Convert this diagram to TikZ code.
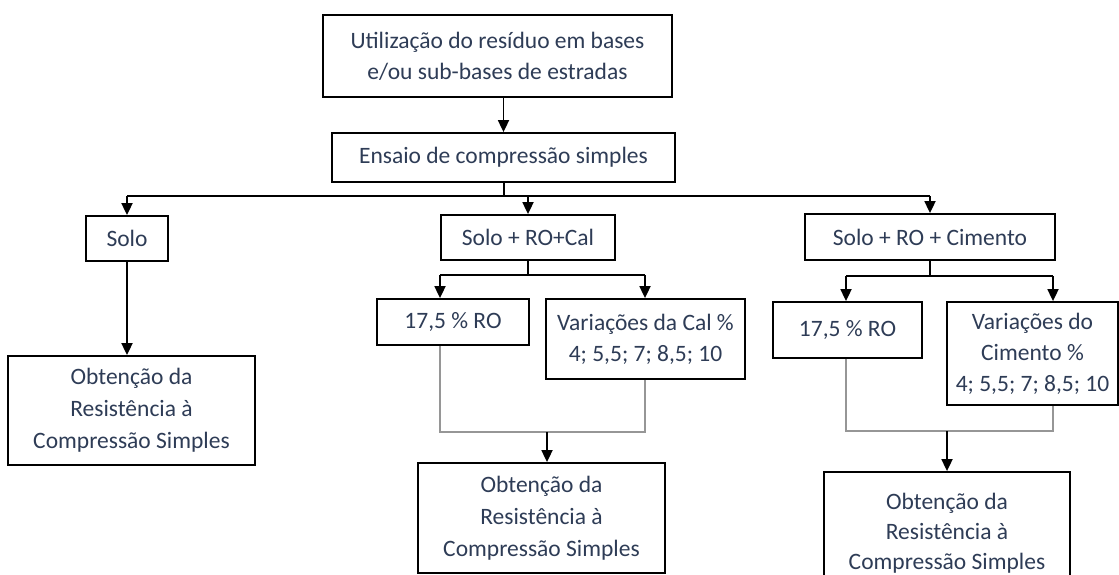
\documentclass[tikz,border=0pt]{standalone}
\usepackage{fontspec}
\newfontfamily\boxfont{Carlito}
\usetikzlibrary{arrows.meta}
\definecolor{txt}{RGB}{46,60,86}
\definecolor{thin}{RGB}{150,150,150}
\begin{document}
\begin{tikzpicture}[x=1pt,y=-1pt,
  box/.style={draw=black,line width=1.8pt,inner sep=0pt,align=center,text=txt,
    font=\boxfont\fontsize{23.5pt}{31pt}\selectfont},
  conn/.style={draw=black,line width=1.8pt},
  arr/.style={conn,-{Triangle[length=12pt,width=11pt]}},
  merge/.style={draw=thin,line width=1.3pt}]
\useasboundingbox (0,0) rectangle (1119,575);
\clip (0,0) rectangle (1119,575);
\fill[white] (0,0) rectangle (1119,575);
% nodes
\node[box,minimum width=349pt,minimum height=82pt] (T) at (497.5,56) {Utilização do resíduo em bases\\e/ou sub-bases de estradas};
\node[box,minimum width=343pt,minimum height=49pt] (E) at (503.5,157.5) {Ensaio de compressão simples};
\node[box,minimum width=82pt,minimum height=45pt] (S) at (127,238.5) {Solo};
\node[box,minimum width=247pt,minimum height=109pt,font=\boxfont\fontsize{23.5pt}{32pt}\selectfont] (BL) at (131.5,410.5) {Obtenção da\\Resistência à\\Compressão Simples};
\node[box,minimum width=174pt,minimum height=45pt] (C) at (528,237.5) {Solo + RO+Cal};
\node[box,minimum width=152pt,minimum height=46pt] (RO1) at (453,322) {17,5 \% RO};
\node[box,minimum width=199pt,minimum height=80pt] (V1) at (645.5,339) {Variações da Cal \%\\4; 5,5; 7; 8,5; 10};
\node[box,minimum width=247pt,minimum height=110pt,font=\boxfont\fontsize{23.5pt}{32pt}\selectfont] (BM) at (541.5,518) {Obtenção da\\Resistência à\\Compressão Simples};
\node[box,minimum width=250pt,minimum height=46pt] (Cm) at (930,237) {Solo + RO + Cimento};
\node[box,minimum width=149pt,minimum height=56pt] (RO2) at (847.5,330) {17,5 \% RO};
\node[box,minimum width=171pt,minimum height=103pt] (V2) at (1032.5,353.5) {Variações do\\Cimento \%\\4; 5,5; 7; 8,5; 10};
\node[box,minimum width=246pt,minimum height=122pt,font=\boxfont\fontsize{23.5pt}{30pt}\selectfont] (BR) at (947,533) {Obtenção da\\Resistência à\\Compressão Simples};
% coordinates of junctions
\coordinate (b0) at (504,196);
\coordinate (m1) at (440,275);
\coordinate (m2) at (645,275);
\coordinate (j1) at (440,432);
\coordinate (j2) at (645,432);
\coordinate (jm) at (547,432);
\coordinate (n1) at (846,276);
\coordinate (n2) at (1053,276);
\coordinate (k1) at (846,431);
\coordinate (k2) at (1053,431);
\coordinate (km) at (947,431);
% top
\draw[arr] (E.north |- T.south) -- (E.north);
\draw[conn] (b0 |- E.south) -- (b0);
\draw[conn] (S.north |- b0) -- (Cm.north |- b0);
\draw[arr] (S.north |- b0) -- (S.north);
\draw[arr] (C.north |- b0) -- (C.north);
\draw[arr] (Cm.north |- b0) -- (Cm.north);
% left
\draw[arr] (S.south) -- (S.south |- BL.north);
% middle
\draw[conn] (C.south) -- (C.south |- m1);
\draw[conn] (m1) -- (m2);
\draw[arr] (m1) -- (m1 |- RO1.north);
\draw[arr] (m2) -- (m2 |- V1.north);
\draw[merge] (j1 |- RO1.south) -- (j1) -- (j2) -- (j2 |- V1.south);
\draw[arr] (jm) -- (jm |- BM.north);
% right
\draw[conn] (Cm.south) -- (Cm.south |- n1);
\draw[conn] (n1) -- (n2);
\draw[arr] (n1) -- (n1 |- RO2.north);
\draw[arr] (n2) -- (n2 |- V2.north);
\draw[merge] (k1 |- RO2.south) -- (k1) -- (k2) -- (k2 |- V2.south);
\draw[arr] (km) -- (km |- BR.north);
\end{tikzpicture}
\end{document}
